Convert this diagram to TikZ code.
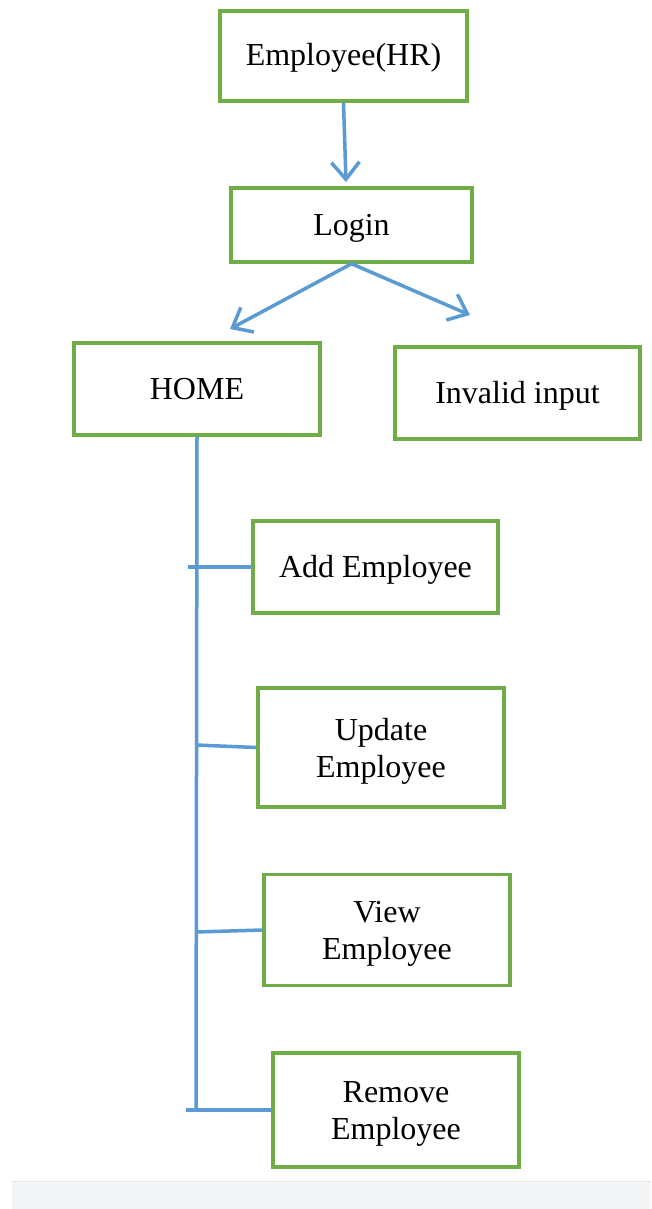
\documentclass[tikz,border=0pt]{standalone}
\usepackage{fontspec}
\setmainfont{Liberation Serif}
\usetikzlibrary{arrows.meta,calc}
\definecolor{boxgreen}{HTML}{70AD47}
\definecolor{linkblue}{HTML}{5B9BD5}
\definecolor{bandgray}{HTML}{F4F5F7}
\definecolor{bandedge}{HTML}{E5E7EA}
\tikzset{
  proc/.style={draw=boxgreen, line width=3.5pt, fill=white, inner sep=0pt,
    align=center, font=\fontsize{32}{37}\selectfont},
  oneline/.style={text height=24pt, text depth=4pt},
  twoline/.style={text height=62pt, text depth=3pt},
  link/.style={draw=linkblue, line width=3.5pt},
  flow/.style={link, -{Straight Barb[length=17pt,width=28pt,line width=3.5pt]}}
}
\begin{document}
\begin{tikzpicture}[x=1pt,y=-1pt]
  % page and bottom band
  \fill[white] (0,0) rectangle (651,1209);
  \useasboundingbox (0,0) rectangle (651,1209);
  \fill[bandgray] (12,1181) rectangle (651,1209);
  \draw[bandedge, line width=1.5pt] (12,1181.5) -- (651,1181.5);

  % boxes
  \node[proc, oneline, minimum width=247pt, minimum height=90pt]  (emp)     at (343.5,56)   {Employee(HR)};
  \node[proc, oneline, minimum width=241pt, minimum height=74pt]  (login)   at (351.5,225)  {Login};
  \node[proc, oneline, minimum width=246pt, minimum height=92pt]  (home)    at (197,389)    {HOME};
  \node[proc, oneline, minimum width=245pt, minimum height=92pt]  (invalid) at (517.5,393)  {Invalid input};
  \node[proc, oneline, minimum width=245pt, minimum height=92pt]  (add)     at (375.5,567)  {Add Employee};
  \node[proc, twoline, minimum width=246pt, minimum height=119pt] (update)  at (381,747.5)  {Update\\Employee};
  \node[proc, twoline, minimum width=246pt, minimum height=111pt] (view)    at (387,930)    {View\\Employee};
  \node[proc, twoline, minimum width=246pt, minimum height=114pt] (remove)  at (396,1110)   {Remove\\Employee};

  % free ends of the arrows and the branch points
  \coordinate (loginIn)  at (346,182);
  \coordinate (homeIn)   at (230,329);
  \coordinate (invIn)    at (470,315);
  \coordinate (busEnd)   at (196,1110);
  \coordinate (tapAdd)   at (188,567);
  \coordinate (tapUpd)   at (196,745);
  \coordinate (tapView)  at (196,932);
  \coordinate (tapRem)   at (186,1110);

  % arrows
  \draw[flow] (emp.south) -- (loginIn);
  \draw[flow] (login.south) -- (homeIn);
  \draw[flow] (login.south) -- (invIn);

  % menu bus from HOME
  \draw[link] (home.south) -- (busEnd);
  \draw[link] (tapAdd) -- (add.west);
  \draw[link] (tapUpd) -- (update.west);
  \draw[link] (tapView) -- (view.west);
  \draw[link] (tapRem) -- (remove.west);
\end{tikzpicture}
\end{document}
